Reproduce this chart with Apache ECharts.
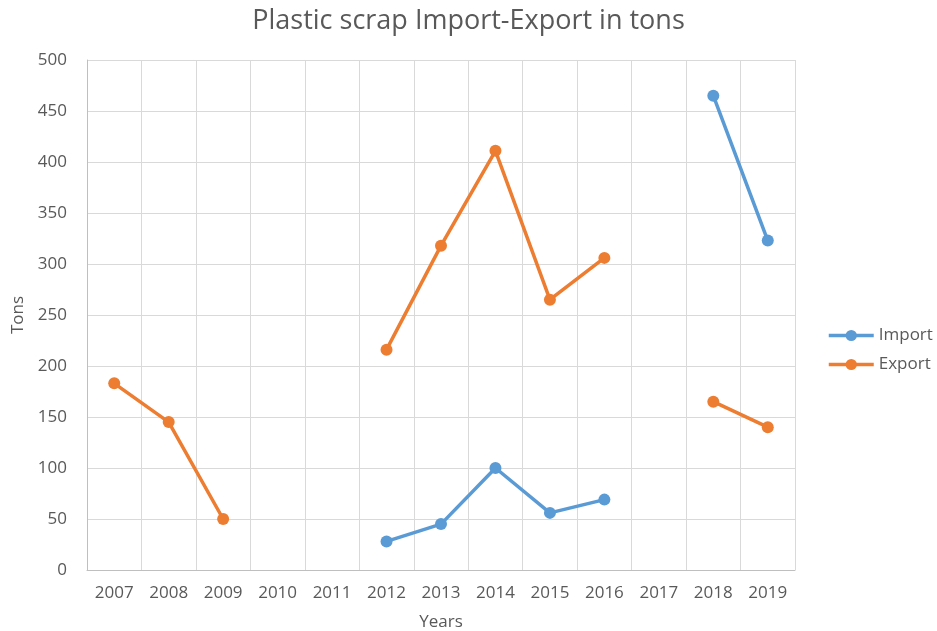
<!DOCTYPE html>
<html>
<head>
<meta charset="utf-8">
<script src="https://cdn.jsdelivr.net/npm/echarts@6/dist/echarts.min.js"></script>
<style>html,body{margin:0;padding:0;background:#fff;overflow:hidden;}#c{width:937px;height:631px;}</style>
</head>
<body>
<div id="c"></div>
<script>
const years = ['2007','2008','2009','2010','2011','2012','2013','2014','2015','2016','2017','2018','2019'];
const importValues = [null,null,null,null,null,28,45,100,56,69,null,465,323];
const exportValues = [183,145,50,null,null,216,318,411,265,306,null,165,140];
const yTicks = {min:0, max:500, interval:50};

const font = '"Open Sans", "Noto Sans", sans-serif';
const txt = '#595959';
const chart = echarts.init(document.getElementById('c'), null, {renderer:'canvas', width:937, height:631});
chart.setOption({
  backgroundColor:'#fff',
  animation:false,
  title:{text:'Plastic scrap Import-Export in tons', left:'center', top:3,
    textStyle:{fontFamily:font, fontSize:27, fontWeight:'normal', color:txt}},
  legend:{orient:'vertical', left:822, top:322, itemGap:12, itemWidth:45, itemHeight:14,
    lineStyle:{width:3.5},
    textStyle:{fontFamily:font, fontSize:17, color:txt},
    data:['Import','Export']},
  grid:{left:87, top:60, width:708, height:510, containLabel:false, outerBoundsMode:'none'},
  xAxis:{type:'category', data:years, boundaryGap:true,
    name:'Years', nameLocation:'middle', nameGap:44,
    nameTextStyle:{fontFamily:font, fontSize:17, color:txt},
    axisLine:{lineStyle:{color:'#bfbfbf', width:1}},
    axisTick:{show:false},
    axisLabel:{fontFamily:font, fontSize:17, color:txt, margin:15, interval:0},
    splitLine:{show:true, lineStyle:{color:'#d9d9d9', width:1}}},
  yAxis:{type:'value', min:yTicks.min, max:yTicks.max, interval:yTicks.interval,
    name:'Tons', nameLocation:'middle', nameGap:60,
    nameTextStyle:{fontFamily:font, fontSize:17, color:txt},
    axisLine:{show:true, lineStyle:{color:'#bfbfbf', width:1}},
    axisTick:{show:false},
    axisLabel:{fontFamily:font, fontSize:17, color:txt, margin:20},
    splitLine:{show:true, lineStyle:{color:'#d9d9d9', width:1}}},
  series:[
    {name:'Import', type:'line', data:importValues, connectNulls:false,
      symbol:'circle', symbolSize:12, color:'#5b9bd5',
      lineStyle:{width:3.5, color:'#5b9bd5'}, itemStyle:{color:'#5b9bd5'}},
    {name:'Export', type:'line', data:exportValues, connectNulls:false,
      symbol:'circle', symbolSize:12, color:'#ed7d31',
      lineStyle:{width:3.5, color:'#ed7d31'}, itemStyle:{color:'#ed7d31'}}
  ]
});
</script>
</body>
</html>
